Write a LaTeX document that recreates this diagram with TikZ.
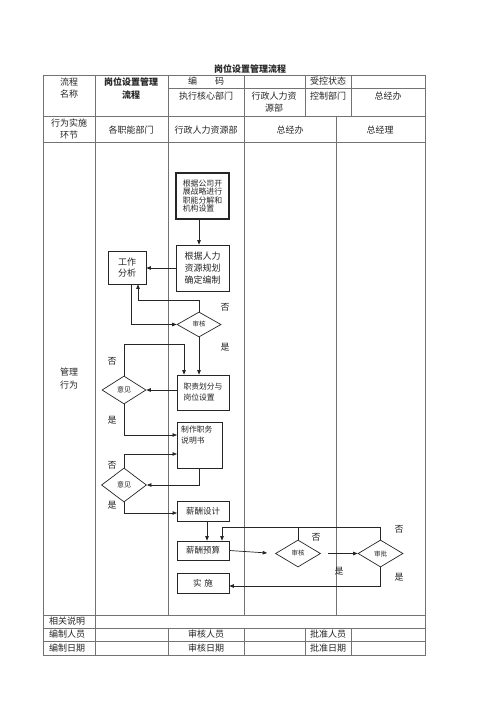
\documentclass[tikz,border=0pt]{standalone}
\usepackage{fontspec}
\newfontfamily\cjk{Noto Sans CJK SC}
\usetikzlibrary{shapes.geometric,arrows.meta}
\begin{document}
\begin{tikzpicture}[x=1pt,y=-1pt,
  font=\cjk\fontsize{9}{11}\selectfont,
  every node/.style={text=black!85},
  grid/.style={draw=black!55,line width=0.6pt},
  box/.style={draw=black!85,line width=0.7pt,inner sep=1pt,align=left},
  dia/.style={draw=black!85,line width=0.7pt,diamond,inner sep=0pt,font=\cjk\fontsize{6.5}{8}\selectfont},
  arr/.style={draw=black!85,line width=0.7pt,-{Triangle[length=4.5pt,width=3.5pt]}},
  ln/.style={draw=black!85,line width=0.7pt},
  lbl/.style={font=\cjk\fontsize{9}{11}\selectfont,inner sep=0pt}]
\useasboundingbox[fill=white] (0,0) rectangle (500,707);
% ---------- table ----------
\node[font=\cjk\bfseries\fontsize{9}{11}\selectfont] (title) at (250,69) {岗位设置管理流程};
\draw[grid] (43,75) rectangle (425,655);
\draw[grid] (168,88) -- (425,88);
\draw[grid] (43,116) -- (425,116);
\draw[grid] (43,142) -- (425,142);
\draw[grid] (43,615) -- (425,615);
\draw[grid] (43,628) -- (425,628);
\draw[grid] (43,641) -- (425,641);
\draw[grid] (95,75) -- (95,655);
\draw[grid] (168,75) -- (168,615) (168,628) -- (168,655);
\draw[grid] (244,75) -- (244,615) (244,628) -- (244,655);
\draw[grid] (305,75) -- (305,116) (305,628) -- (305,655);
\draw[grid] (351,75) -- (351,116) (351,628) -- (351,655);
\draw[grid] (336,116) -- (336,615);
% header texts
\node[align=center] (h1) at (69,88) {流程\\[1pt]名称};
\node[align=center,font=\cjk\bfseries\fontsize{9}{11}\selectfont] (h2) at (131,88) {岗位设置管理\\[2pt]流程};
\node (h3) at (206,81.5) {编\hspace{2em}码};
\node (h4) at (328,81.5) {受控状态};
\node (h5) at (206,96) {执行核心部门};
\node[align=center] (h6) at (274,102) {行政人力资\\[1pt]源部};
\node (h7) at (328,96) {控制部门};
\node (h8) at (388,96) {总经办};
\node[align=center] (h9) at (69,129) {行为实施\\[1pt]环节};
\node (h10) at (131,130) {各职能部门};
\node (h11) at (206,130) {行政人力资源部};
\node (h12) at (290,130) {总经办};
\node (h13) at (380,130) {总经理};
\node[align=center] (h14) at (69,379) {管理\\[2pt]行为};
\node (f1) at (67,621.5) {相关说明};
\node (f2) at (67,634.5) {编制人员};
\node (f3) at (206,634.5) {审核人员};
\node (f4) at (328,634.5) {批准人员};
\node (f5) at (67,648) {编制日期};
\node (f6) at (206,648) {审核日期};
\node (f7) at (328,648) {批准日期};
% ---------- flow nodes ----------
\node[box,line width=2.2pt,minimum width=53pt,minimum height=46pt,font=\cjk\fontsize{7.9}{8.6}\selectfont] (b1) at (202.5,196) {根据公司开\\展战略进行\\职能分解和\\机构设置};
\node[box,minimum width=53pt,minimum height=46pt,align=center,font=\cjk\fontsize{9}{12}\selectfont] (b2) at (202.5,268) {根据人力\\资源规划\\确定编制};
\node[box,minimum width=38pt,minimum height=33pt,align=center] (ga) at (127,267.5) {工作\\分析};
\node[dia,minimum width=44pt,minimum height=25pt] (d1) at (199,324.5) {审核};
\node[box,minimum width=52pt,minimum height=35pt,font=\cjk\fontsize{7.8}{11}\selectfont] (b3) at (203,392.5) {职责划分与\\岗位设置};
\node[dia,minimum width=44pt,minimum height=28pt,font=\cjk\fontsize{7}{8}\selectfont] (d2) at (124,390) {意见};
\node[box,minimum width=45pt,minimum height=46pt] (b4) at (199.5,445) {};
\node[anchor=north west,inner sep=0pt,align=left,font=\cjk\fontsize{7.8}{10.5}\selectfont] (b4t) at (181,426) {制作职务\\说明书};
\node[dia,minimum width=45pt,minimum height=34pt,font=\cjk\fontsize{7}{8}\selectfont] (d3) at (124,485) {意见};
\node[box,minimum width=52pt,minimum height=20pt,font=\cjk\fontsize{8.5}{10}\selectfont] (b5) at (203,511) {薪酬设计};
\node[box,minimum width=52pt,minimum height=19pt,font=\cjk\fontsize{8.5}{10}\selectfont] (b6) at (203,550.5) {薪酬预算};
\node[box,minimum width=52pt,minimum height=20pt,font=\cjk\fontsize{8.5}{10}\selectfont] (b7) at (203,583) {实\hspace{0.3em}施};
\node[dia,minimum width=45pt,minimum height=27pt] (d4) at (298,553.5) {审核};
\node[dia,minimum width=45pt,minimum height=27pt] (d5) at (380.5,553.5) {审批};
% ---------- connectors ----------
\draw[arr] ([xshift=-3.5pt]b1.south) -- ([xshift=-3.5pt]b2.north);
\draw[arr] (b2.west) -- (b2.west -| ga.east);
\draw[arr] (d1.north) -- (199,300) -| ([xshift=11pt]ga.south);
\draw[arr] ([xshift=4pt]ga.south) |- (d1.west);
\draw[arr] (d1.south) -- (d1.south |- b3.north);
\draw[arr] (d2.north) |- (184,344) -- (184,0 |- b3.north);
\draw[arr] (b3.west |- d2.east) -- (d2.east);
\draw[arr] (d2.south) |- (177,435);
\draw[arr] (b4.south) |- (d3.east);
\draw[arr] (d3.north) |- (177,454);
\draw[arr] (d3.south) |- (177,513);
\draw[arr] ([xshift=4pt]b5.south) -- ([xshift=4pt]b6.north);
\coordinate (fb) at (298,527);
\draw[ln] (d5.north) |- (fb);
\draw[arr] (d4.north) -- (fb) -| ([xshift=19pt]b6.north);
\draw[arr,shorten >=8pt] (b6.east) -- (d4.west);
\draw[arr,shorten <=7.5pt] (d4.east) -- (d5.west);
\draw[arr] (d5.south) |- ([yshift=-3pt]b7.east);
% ---------- labels ----------
\node[lbl] (l1) at (225,307) {否};
\node[lbl] (l2) at (225,347) {是};
\node[lbl] (l3) at (112,361) {否};
\node[lbl] (l4) at (112,420) {是};
\node[lbl] (l5) at (112,465) {否};
\node[lbl] (l6) at (112,505) {是};
\node[lbl] (l7) at (316,537) {否};
\node[lbl] (l8) at (339,571) {是};
\node[lbl] (l9) at (399,529) {否};
\node[lbl] (l10) at (399,577) {是};
\end{tikzpicture}
\end{document}
